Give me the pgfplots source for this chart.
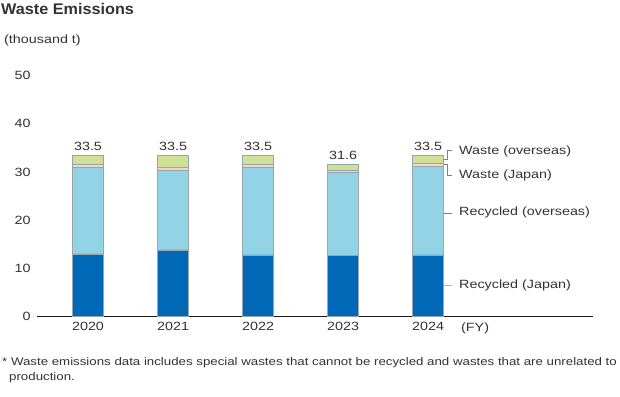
\documentclass[border=0pt]{standalone}
\usepackage{pgfplots}
\pgfplotsset{compat=1.18}
\usepackage{fontspec}
\setmainfont{Liberation Sans}[FakeStretch=1.2]
\newfontfamily\titlefont{Liberation Sans}[FakeStretch=1.05]
\definecolor{cDark}{HTML}{0068B6}
\definecolor{cLight}{HTML}{92D3E6}
\definecolor{cPink}{HTML}{F8D3C8}
\definecolor{cGreen}{HTML}{CFE196}
\definecolor{txt}{HTML}{333333}
\definecolor{edge}{HTML}{9AA6AE}
\definecolor{axl}{HTML}{231815}
\tikzset{vlab/.style={inner sep=0pt, anchor=south, yshift=4bp, text=txt, font=\fontsize{12}{14}\selectfont}}
\begin{document}
\begin{tikzpicture}
\path[use as bounding box] (0,0) rectangle (620bp,-397bp);
\begin{axis}[
  at={(37bp,-316.5bp)}, anchor=south west,
  scale only axis, width=556bp, height=241bp,
  xmin=-0.6, xmax=5.94, ymin=0, ymax=50,
  ybar stacked, bar width=31bp,
  axis lines*=left,
  x axis line style={line width=1.6pt, color=axl, -},
  y axis line style={draw=none},
  ytick={0,10,20,30,40,50},
  xtick={0,1,2,3,4},
  xticklabels={2020,2021,2022,2023,2024},
  major tick length=0pt,
  tick label style={font=\fontsize{12}{14}\selectfont, text=txt},
  /pgf/number format/assume math mode=true,
  yticklabel style={xshift=-3bp},
  xticklabel style={yshift=-2bp},
  clip=false,
]
\addplot[fill=cDark, draw=edge, line width=0.6pt] coordinates {(0,13.0) (1,13.8) (2,12.8) (3,12.6) (4,12.8)};
\addplot[fill=cLight, draw=edge, line width=0.6pt] coordinates {(0,18.0) (1,16.6) (2,18.2) (3,17.4) (4,18.3)};
\addplot[fill=cPink, draw=edge, line width=0.6pt] coordinates {(0,0.5) (1,0.5) (2,0.6) (3,0.4) (4,0.6)};
\addplot[fill=cGreen, draw=edge, line width=0.6pt] coordinates {(0,2.0) (1,2.6) (2,1.9) (3,1.2) (4,1.8)};
\node[vlab] at (axis cs:0,33.5) {33.5};
\node[vlab] at (axis cs:1,33.5) {33.5};
\node[vlab] at (axis cs:2,33.5) {33.5};
\node[vlab] at (axis cs:3,31.6) {31.6};
\node[vlab] at (axis cs:4,33.5) {33.5};
\draw[gray, line width=0.6pt] (axis cs:4.176,32.6) -- (axis cs:4.224,32.6) |- (axis cs:4.282,34.5);
\draw[gray, line width=0.6pt] (axis cs:4.176,31.6) -- (axis cs:4.224,31.6) |- (axis cs:4.282,29.3);
\draw[gray, line width=0.6pt] (axis cs:4.176,21.4) -- (axis cs:4.282,21.4);
\draw[gray!60, line width=0.8pt] (axis cs:4.176,6.5) -- (axis cs:4.282,6.5);
\end{axis}
\begin{scope}[every node/.style={inner sep=0pt, text=txt, font=\fontsize{12}{14}\selectfont}]
\node[anchor=west] at (459bp,-151bp) {Waste (overseas)};
\node[anchor=west] at (459bp,-175.5bp) {Waste (Japan)};
\node[anchor=west] at (459bp,-212.5bp) {Recycled (overseas)};
\node[anchor=west] at (459bp,-285.5bp) {Recycled (Japan)};
\node[anchor=base west] at (461bp,-331.5bp) {(FY)};
\node[anchor=base west, font=\titlefont\bfseries\fontsize{15.5}{18}\selectfont] at (1bp,-14bp) {Waste Emissions};
\node[anchor=base west] at (4bp,-43bp) {(thousand t)};
\node[anchor=base west, font=\fontsize{11.1}{13}\selectfont] at (2bp,-365bp) {* Waste emissions data includes special wastes that cannot be recycled and wastes that are unrelated to};
\node[anchor=base west, font=\fontsize{11.1}{13}\selectfont] at (9bp,-380bp) {production.};
\end{scope}
\end{tikzpicture}
\end{document}
